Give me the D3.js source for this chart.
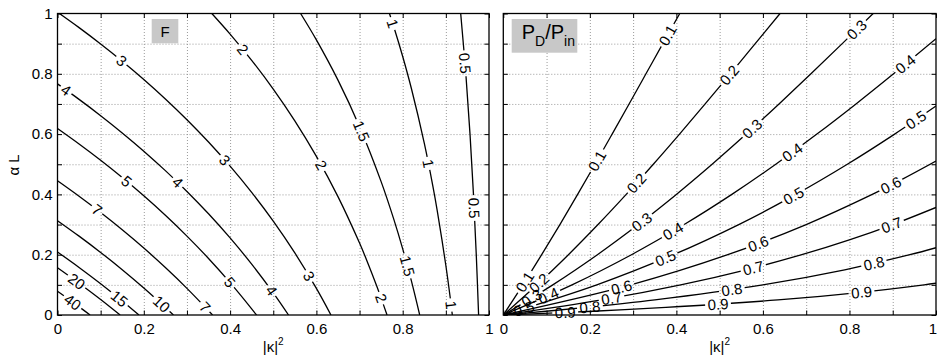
<!DOCTYPE html>
<html><head><meta charset="utf-8">
<script src="https://cdn.jsdelivr.net/npm/d3@7"></script>
<style>
body{margin:0;background:#fff;}
svg{display:block;font-family:"Liberation Sans",Arial,Helvetica,sans-serif;}
</style>
</head><body>
<svg id="chart" width="937" height="357"></svg>
<script>
// ---------- data ----------
const xTickLabels = [0, 0.2, 0.4, 0.6, 0.8, 1];
const yTickLabels = [0, 0.2, 0.4, 0.6, 0.8, 1];
const minorTicks = [0, 0.1, 0.2, 0.3, 0.4, 0.5, 0.6, 0.7, 0.8, 0.9, 1];
const gridTicks = [0.1, 0.2, 0.3, 0.4, 0.5, 0.6, 0.7, 0.8, 0.9];

// Left panel: contours of F, points are [|kappa|^2, alpha L]
const F_levels = ["40", "20", "15", "10", "7", "5", "4", "3", "2", "1.5", "1", "0.5"];
const F_lines = [
  [[0,0.0785],[0.04,0.0377],[0.0755,0]],
  [[0,0.1569],[0.05,0.1056],[0.1,0.0516],[0.1452,0]],
  [[0,0.2091],[0.05,0.1578],[0.1,0.1037],[0.15,0.0465],[0.1887,0]],
  [[0,0.3129],[0.05,0.2616],[0.1,0.2075],[0.15,0.1504],[0.2,0.0898],[0.25,0.0252],[0.2687,0]],
  [[0,0.4451],[0.05,0.3938],[0.1,0.3398],[0.15,0.2826],[0.2,0.2220],[0.25,0.1574],[0.3,0.0884],[0.35,0.0143],[0.3593,0]],
  [[0,0.6184],[0.05,0.5671],[0.1,0.5131],[0.15,0.4559],[0.2,0.3953],[0.25,0.3307],[0.3,0.2617],[0.35,0.1876],[0.4,0.1076],[0.45,0.0206],[0.4612,0]],
  [[0,0.7665],[0.05,0.7152],[0.1,0.6612],[0.15,0.6040],[0.2,0.5434],[0.25,0.4788],[0.3,0.4098],[0.35,0.3357],[0.4,0.2557],[0.45,0.1687],[0.5,0.0734],[0.5354,0]],
  [[0.0044,1],[0.05,0.9531],[0.1,0.8990],[0.15,0.8419],[0.2,0.7813],[0.25,0.7167],[0.3,0.6477],[0.35,0.5736],[0.4,0.4936],[0.45,0.4066],[0.5,0.3113],[0.55,0.2059],[0.6,0.0881],[0.6337,0]],
  [[0.3576,1],[0.4,0.9317],[0.45,0.8447],[0.5,0.7494],[0.55,0.6440],[0.6,0.5262],[0.65,0.3927],[0.7,0.2385],[0.72,0.1695],[0.74,0.0954],[0.75,0.0562],[0.7637,0]],
  [[0.5634,1],[0.6,0.9124],[0.65,0.7789],[0.7,0.6247],[0.75,0.4424],[0.78,0.3146],[0.8,0.2193],[0.82,0.1139],[0.8394,0]],
  [[0.7693,1],[0.78,0.9527],[0.8,0.8574],[0.82,0.7520],[0.85,0.5697],[0.87,0.4266],[0.88,0.3465],[0.9,0.1642],[0.91,0.0589],[0.915,0]],
  [[0.9344,1],[0.9463,0.8],[0.956,0.6],[0.964,0.4],[0.9705,0.2],[0.9759,0]]
];
const F_labels = [
  ["3",0.149,0.846],["4",0.0197,0.746],["2",0.4276,0.879],["3",0.386,0.512],
  ["1",0.776,0.967],["0.5",0.9405,0.835],["1.5",0.701,0.608],["1",0.859,0.503],
  ["2",0.612,0.4975],["5",0.160,0.442],["4",0.276,0.437],["7",0.091,0.348],
  ["20",0.0406,0.105],["40",0.0306,0.033],["15",0.141,0.050],["10",0.239,0.033],
  ["7",0.342,0.0275],["5",0.396,0.105],["0.5",0.960,0.354],["1.5",0.801,0.160],
  ["3",0.581,0.127],["4",0.4925,0.077],["2",0.747,0.055],["1",0.9096,0.033]
];

// Right panel: contours of P_D/P_in
const P_levels = ["0.1", "0.2", "0.3", "0.4", "0.5", "0.6", "0.7", "0.8", "0.9"];
const P_lines = [
  [[0,0],[0.0452,0.1],[0.0887,0.2],[0.1308,0.3],[0.1718,0.4],[0.2120,0.5],[0.2515,0.6],[0.2907,0.7],[0.3297,0.8],[0.3686,0.9],[0.4078,1]],
  [[0,0],[0.0779,0.1],[0.1505,0.2],[0.2189,0.3],[0.2841,0.4],[0.3467,0.5],[0.4073,0.6],[0.4665,0.7],[0.5247,0.8],[0.5822,0.9],[0.6396,1]],
  [[0,0],[0.1144,0.1],[0.2175,0.2],[0.3120,0.3],[0.3999,0.4],[0.4826,0.5],[0.5614,0.6],[0.6372,0.7],[0.7110,0.8],[0.7833,0.9],[0.8548,1]],
  [[0,0],[0.1588,0.1],[0.2962,0.2],[0.4180,0.3],[0.5282,0.4],[0.6297,0.5],[0.7248,0.6],[0.8151,0.7],[0.9019,0.8],[1,0.9163]],
  [[0,0],[0.2161,0.1],[0.3933,0.2],[0.5441,0.3],[0.6762,0.4],[0.7951,0.5],[0.9044,0.6],[1,0.6931]],
  [[0,0],[0.2945,0.1],[0.5188,0.2],[0.6999,0.3],[0.8527,0.4],[0.9215,0.45],[1,0.5108]],
  [[0,0],[0.2274,0.05],[0.4100,0.1],[0.5613,0.15],[0.6899,0.2],[0.8015,0.25],[0.9002,0.3],[1,0.3567]],
  [[0,0],[0.1916,0.025],[0.3504,0.05],[0.5998,0.1],[0.7890,0.15],[0.9397,0.2],[1,0.2231]],
  [[0,0],[0.2072,0.0125],[0.3759,0.025],[0.6347,0.05],[0.8253,0.075],[0.9726,0.1],[1,0.1054]]
];
const P_labels = [
  ["0.1",0.3776,0.9287],["0.1",0.2172,0.5118],["0.1",0.0425,0.116],
  ["0.2",0.5223,0.796],["0.2",0.3083,0.4368],["0.2",0.0809,0.110],
  ["0.3",0.8128,0.951],["0.3",0.5741,0.6192],["0.3",0.3199,0.3095],["0.3",0.06,0.07],
  ["0.4",0.9284,0.8348],["0.4",0.6665,0.5416],["0.4",0.3929,0.2763],["0.4",0.104,0.066],
  ["0.5",0.9515,0.6524],["0.5",0.6702,0.398],["0.5",0.3737,0.1914],["0.5",0.045,0.03],
  ["0.6",0.8937,0.4368],["0.6",0.5893,0.2355],["0.6",0.2736,0.0886],
  ["0.7",0.8976,0.2985],["0.7",0.5778,0.1582],["0.7",0.2505,0.0554],
  ["0.8",0.8551,0.1768],["0.8",0.5278,0.0829],["0.8",0.2004,0.0275],
  ["0.9",0.8283,0.072],["0.9",0.4969,0.0275],["0.9",0.1426,0.011]
];

// ---------- drawing ----------
const W = 937, H = 357;
const TOP = 13.5, BOT = 315;
const FS = 15;
const svg = d3.select("#chart");
const defs = svg.append("defs");

function drawPanel(cfg) {
  const x = d3.scaleLinear().domain([0, 1]).range([cfg.x0, cfg.x1]);
  const y = d3.scaleLinear().domain([0, 1]).range([BOT, TOP]);
  const g = svg.append("g");

  // grid
  const grid = g.append("g");
  grid.append("g").attr("transform", `translate(0,${BOT})`)
    .call(d3.axisBottom(x).tickValues(gridTicks).tickSize(-(BOT - TOP)).tickFormat(""));
  grid.append("g").attr("transform", `translate(${cfg.x0},0)`)
    .call(d3.axisLeft(y).tickValues(gridTicks).tickSize(-(cfg.x1 - cfg.x0)).tickFormat(""));
  grid.selectAll(".domain").remove();
  grid.selectAll("line").attr("stroke", "#9a9a9a").attr("stroke-width", 1)
    .attr("stroke-dasharray", "1,2");

  // clip
  const clipId = cfg.id + "clip";
  defs.append("clipPath").attr("id", clipId).append("rect")
    .attr("x", cfg.x0).attr("y", TOP).attr("width", cfg.x1 - cfg.x0).attr("height", BOT - TOP);

  const line = d3.line().x(d => x(d[0])).y(d => y(d[1])).curve(d3.curveCatmullRom.alpha(0.5));
  const linesG = g.append("g").attr("clip-path", `url(#${clipId})`);
  const labelsG = g.append("g").attr("font-size", FS).attr("fill", "#000");

  cfg.lines.forEach((pts, i) => {
    const lvl = cfg.levels[i];
    const maskId = cfg.id + "m" + i;
    const mask = defs.append("mask").attr("id", maskId).attr("maskUnits", "userSpaceOnUse")
      .attr("x", 0).attr("y", 0).attr("width", W).attr("height", H);
    mask.append("rect").attr("width", W).attr("height", H).attr("fill", "white");
    const path = linesG.append("path").attr("d", line(pts)).attr("fill", "none")
      .attr("stroke", "#000").attr("stroke-width", 1.3).attr("mask", `url(#${maskId})`);
    const node = path.node();
    const total = node.getTotalLength();
    const samples = [];
    for (let s = 0; s <= total; s += 0.5) { const p = node.getPointAtLength(s); samples.push([p.x, p.y, s]); }

    cfg.labels.filter(l => l[0] === lvl).forEach(l => {
      const lx = x(l[1]), ly = y(l[2]);
      let best = samples[0], bd = Infinity;
      samples.forEach(p => { const d = (p[0]-lx)**2 + (p[1]-ly)**2; if (d < bd) { bd = d; best = p; } });
      const a = node.getPointAtLength(Math.max(0, best[2] - 4));
      const b = node.getPointAtLength(Math.min(total, best[2] + 4));
      let ang = Math.atan2(b.y - a.y, b.x - a.x) * 180 / Math.PI;
      if (ang > 90) ang -= 180;
      if (ang < -90) ang += 180;
      const tr = `translate(${best[0]},${best[1]}) rotate(${ang})`;
      const t = labelsG.append("text").attr("transform", tr).attr("text-anchor", "middle")
        .attr("dy", "0.36em").text(lvl);
      const w = t.node().getComputedTextLength();
      mask.append("rect").attr("x", -w / 2 - 2.5).attr("y", -7).attr("width", w + 5).attr("height", 14)
        .attr("fill", "black").attr("transform", tr);
    });
  });

  // inward ticks, all four sides
  const tk = g.append("g");
  tk.append("g").attr("transform", `translate(0,${BOT})`).call(d3.axisBottom(x).tickValues(minorTicks).tickSize(-4.5).tickFormat(""));
  tk.append("g").attr("transform", `translate(0,${TOP})`).call(d3.axisTop(x).tickValues(minorTicks).tickSize(-4.5).tickFormat(""));
  tk.append("g").attr("transform", `translate(${cfg.x0},0)`).call(d3.axisLeft(y).tickValues(minorTicks).tickSize(-4.5).tickFormat(""));
  tk.append("g").attr("transform", `translate(${cfg.x1},0)`).call(d3.axisRight(y).tickValues(minorTicks).tickSize(-4.5).tickFormat(""));
  tk.selectAll(".domain").remove();
  tk.selectAll("line").attr("stroke", "#000").attr("stroke-width", 1);

  // tick labels
  const xl = g.append("g").attr("transform", `translate(0,${BOT})`)
    .call(d3.axisBottom(x).tickValues(xTickLabels).tickSize(0).tickPadding(8).tickFormat(d3.format("~g")));
  xl.select(".domain").remove();
  xl.selectAll("text").attr("font-size", FS).attr("font-family", null).attr("fill", "#000");
  if (cfg.edgeLastLabel) {
    // keep the last tick label inside the window
    xl.selectAll("text").filter(d => d === 1).attr("text-anchor", "end").attr("x", 0.5);
  }
  if (cfg.yLabels) {
    const yl = g.append("g").attr("transform", `translate(${cfg.x0},0)`)
      .call(d3.axisLeft(y).tickValues(yTickLabels).tickSize(0).tickPadding(5).tickFormat(d3.format("~g")));
    yl.select(".domain").remove();
    yl.selectAll("text").attr("font-size", FS).attr("font-family", null).attr("fill", "#000");
  }

  // frame
  g.append("rect").attr("x", cfg.x0).attr("y", TOP).attr("width", cfg.x1 - cfg.x0).attr("height", BOT - TOP)
    .attr("fill", "none").attr("stroke", "#000").attr("stroke-width", 1.3);

  // x axis title |kappa|^2
  const xt = g.append("text").attr("x", (cfg.x0 + cfg.x1) / 2).attr("y", 351.5)
    .attr("text-anchor", "middle").attr("font-size", FS);
  xt.append("tspan").text("|κ|");
  xt.append("tspan").attr("font-size", 10).attr("dy", -7).text("2");

  return { x, y, g };
}

const left = drawPanel({ id: "L", x0: 57.5, x1: 489, levels: F_levels, lines: F_lines, labels: F_labels, yLabels: true });
const right = drawPanel({ id: "R", x0: 503.3, x1: 936, levels: P_levels, lines: P_lines, labels: P_labels, yLabels: false, edgeLastLabel: true });

// y axis title
svg.append("text").attr("transform", "translate(18.5,165) rotate(-90)").attr("text-anchor", "middle")
  .attr("font-size", FS).text("α L");

// panel title boxes
left.g.append("rect").attr("x", 57.5 + 94.2).attr("y", 19).attr("width", 26.6).attr("height", 24.3).attr("fill", "#c8c8c8");
left.g.append("text").attr("x", 57.5 + 94.2 + 13.3).attr("y", 36.5).attr("text-anchor", "middle").attr("font-size", FS).text("F");

right.g.append("rect").attr("x", 503.3 + 8.4).attr("y", 19).attr("width", 65.6).attr("height", 33.7).attr("fill", "#c8c8c8");
const pt = right.g.append("text").attr("x", 521.7).attr("y", 39.3).attr("font-size", 20);
pt.append("tspan").text("P");
pt.append("tspan").attr("font-size", 14).attr("dy", 6.7).text("D");
pt.append("tspan").attr("dy", -6.7).text("/P");
pt.append("tspan").attr("font-size", 14).attr("dy", 6.7).text("in");
</script>
</body></html>
